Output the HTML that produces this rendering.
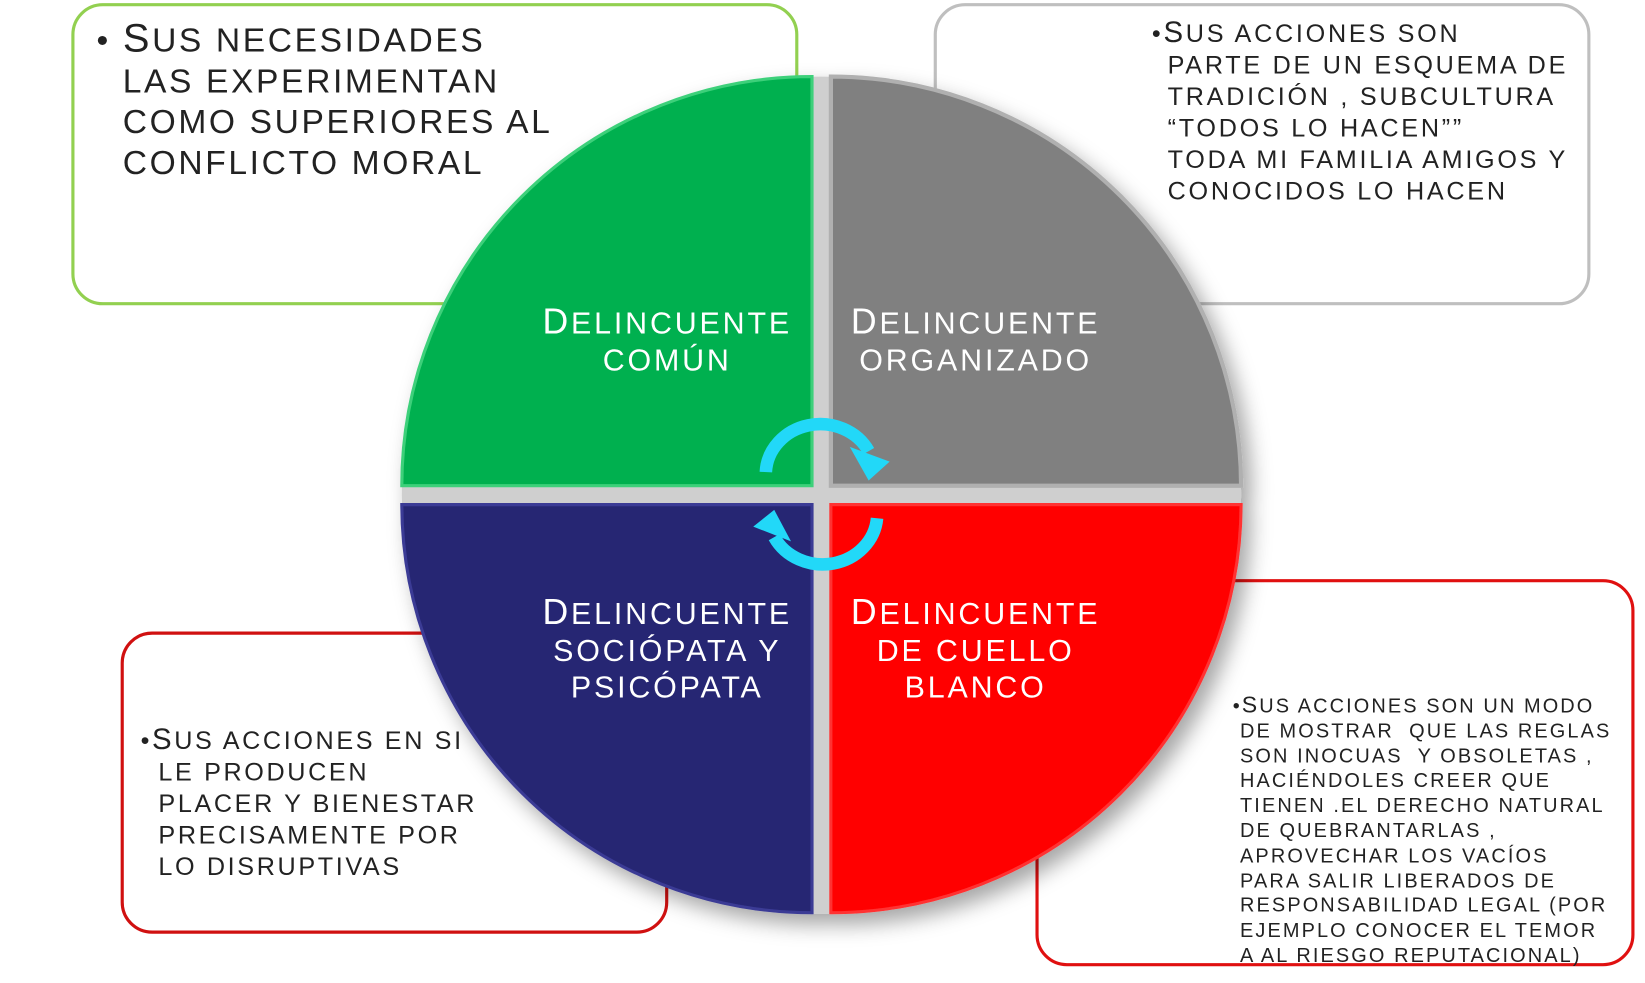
<!DOCTYPE html>
<html><head><meta charset="utf-8"><style>
html,body{margin:0;padding:0;background:#fff;width:1645px;height:983px;overflow:hidden}
#w{position:absolute;left:0;top:0;width:1568px;height:937px;transform:scale(1.0491);transform-origin:0 0}
.box{position:absolute;border-radius:30px;background:#fff;box-sizing:border-box}
.t{position:absolute;font-family:"Liberation Sans",sans-serif;text-transform:uppercase;color:#222;white-space:pre}
.t b{font-weight:normal}
svg{position:absolute;left:0;top:0}
.l{font-family:"Liberation Sans",sans-serif;fill:#fff;font-size:29px;letter-spacing:2.7px;text-anchor:middle}
</style></head><body><div id="w">
<div class="box" style="left:68px;top:3px;width:693px;height:288px;border:3px solid #92d050"></div>
<div class="t" style="left:92px;top:18px;font-size:32px;line-height:39px;letter-spacing:2.5px;padding-left:25px;text-indent:-25px">• <b style="font-size:38px">S</b>us necesidades
las experimentan
como superiores al
conflicto moral</div>
<div class="box" style="left:890px;top:3px;width:626px;height:288px;border:3px solid #bfbfbf"></div>
<div class="t" style="left:1098px;top:16px;font-size:24px;line-height:30px;letter-spacing:2.6px;padding-left:15px;text-indent:-15px">•<b style="font-size:28px">S</b>us acciones son
parte de un esquema de
tradición , subcultura
“todos lo hacen””
toda mi familia amigos y
conocidos lo hacen</div>
<div class="box" style="left:115px;top:602px;width:522px;height:288px;border:3px solid #d01010"></div>
<div class="t" style="left:134px;top:690px;font-size:24px;line-height:30px;letter-spacing:2.5px;padding-left:17px;text-indent:-17px">•<b style="font-size:28px">S</b>us acciones en si
le producen
placer y bienestar
precisamente por
lo disruptivas</div>
<div class="box" style="left:987px;top:552px;width:571px;height:369px;border:3px solid #e01010"></div>
<div class="t" style="left:1175px;top:660px;font-size:19px;line-height:23.8px;letter-spacing:2px;padding-left:7px;text-indent:-7px">•<b style="font-size:22px">S</b>us acciones son un modo
de mostrar  que las reglas
son inocuas  y obsoletas ,
haciéndoles creer que
tienen .el derecho natural
de quebrantarlas ,
aprovechar los vacíos
para salir liberados de
responsabilidad legal (por
ejemplo conocer el temor
a al riesgo reputacional)</div>
<svg width="1568" height="937" viewBox="0 0 1568 937">
<defs>
<filter id="sh" x="-20%" y="-20%" width="140%" height="140%"><feDropShadow dx="8" dy="10" stdDeviation="10" flood-color="#000" flood-opacity="0.35"/></filter>
</defs>
<g filter="url(#sh)">
<path d="M383,472 A400,399 0 0 1 1183,472 A400,399 0 0 1 383,472 Z" fill="#cfcfcf"/>
<path d="M774,463 L383,463 A391,390 0 0 1 774,73 Z" fill="#00b050" stroke="#3cd07a" stroke-width="3"/>
<path d="M792,463 L1183,463 A391,390 0 0 0 792,73 Z" fill="#808080" stroke="#b0b0b0" stroke-width="4"/>
<path d="M774,481 L383,481 A391,390 0 0 0 774,870 Z" fill="#262673" stroke="#3a3a95" stroke-width="3"/>
<path d="M792,481 L1183,481 A391,390 0 0 1 792,870 Z" fill="#ff0000" stroke="#ff3030" stroke-width="3"/>
</g>
<text class="l" x="636" y="318"><tspan font-size="34">D</tspan>ELINCUENTE</text>
<text class="l" x="636" y="353">COMÚN</text>
<text class="l" x="930" y="318"><tspan font-size="34">D</tspan>ELINCUENTE</text>
<text class="l" x="930" y="353">ORGANIZADO</text>
<text class="l" x="636" y="595"><tspan font-size="34">D</tspan>ELINCUENTE</text>
<text class="l" x="636" y="630">SOCIÓPATA Y</text>
<text class="l" x="636" y="665">PSICÓPATA</text>
<text class="l" x="930" y="595"><tspan font-size="34">D</tspan>ELINCUENTE</text>
<text class="l" x="930" y="630">DE CUELLO</text>
<text class="l" x="930" y="665">BLANCO</text>
<g fill="none" stroke="#22d8f8" stroke-width="12">
<path d="M730,450 A52,48 0 0 1 828,430"/>
<path d="M836,494 A52,48 0 0 1 738,512"/>
</g>
<polygon points="810,426 848,440 828,458" fill="#22d8f8"/>
<polygon points="754,516 718,502 738,486" fill="#22d8f8"/>
</svg>
</div></body></html>
